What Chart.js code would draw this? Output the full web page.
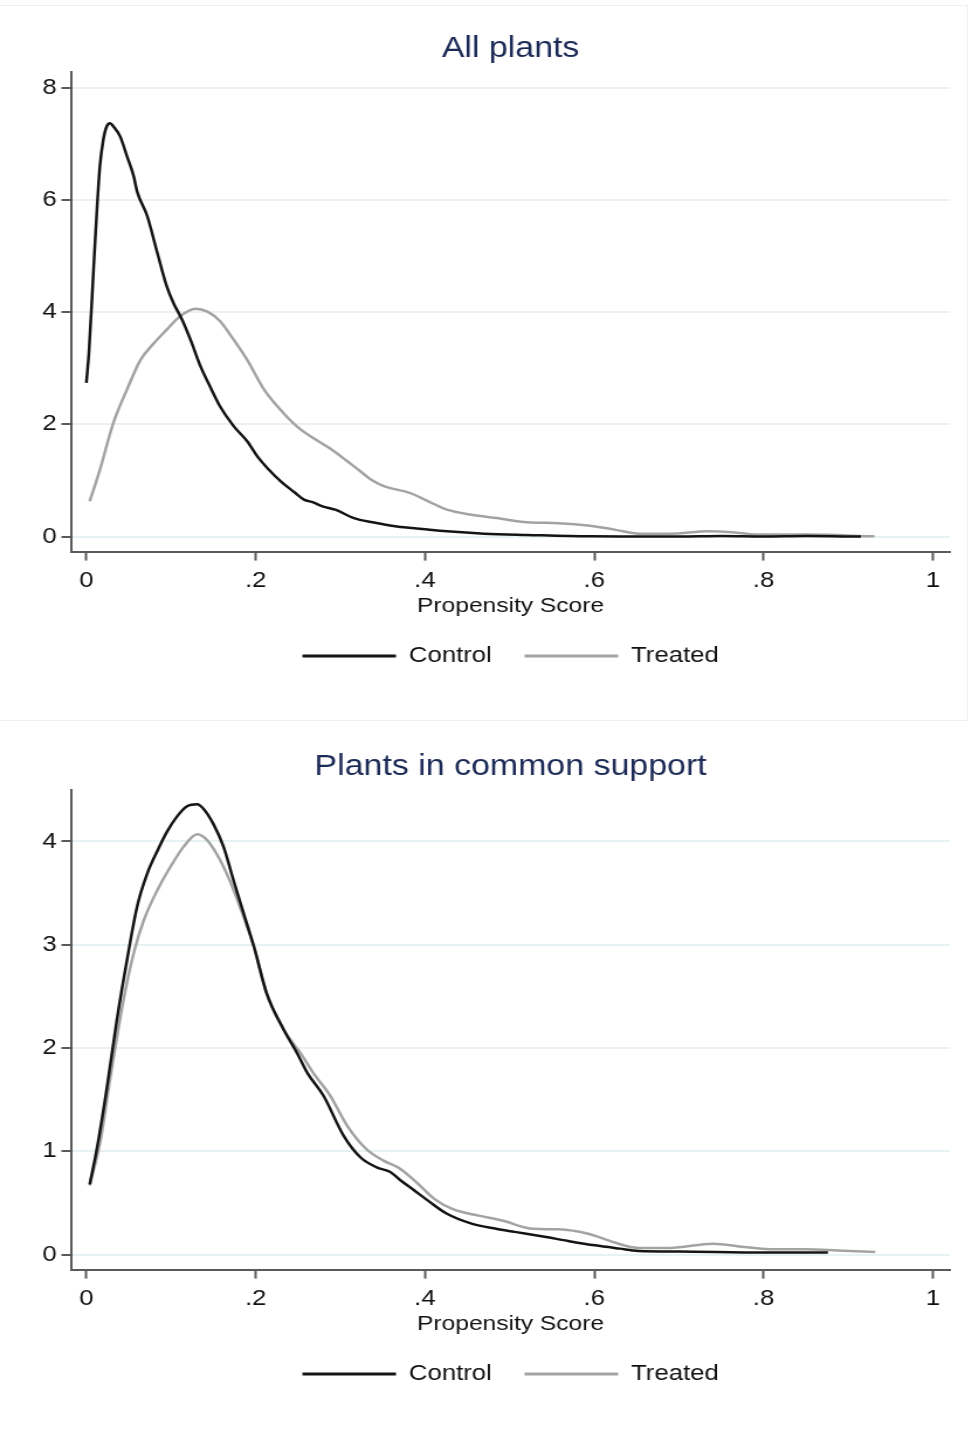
<!DOCTYPE html>
<html lang="en">
<head>
<meta charset="UTF-8" />
<title>Propensity score densities</title>
<script src="https://cdn.jsdelivr.net/npm/chart.js"></script>
<style>
  html, body { margin: 0; padding: 0; background: #fff; overflow: hidden; }
  body { width: 972px; height: 1431px; position: relative; }
  .frame { position: absolute; left: -1px; top: 5px; width: 969px; height: 716px; border: 1px solid #f0f0f0; box-sizing: border-box; }
  /* the reference is stretched sideways, so the panels are too */
  .panel { position: absolute; left: 0; width: 831px; height: 718px; transform: scaleX(1.1697); transform-origin: 0 0; }
  #panelTop { top: 0; }
  #panelBottom { top: 718px; }
</style>
</head>
<body>
<div class="frame"></div>
<div class="panel" id="panelTop"><canvas id="chartTop" width="831" height="718"></canvas></div>
<div class="panel" id="panelBottom"><canvas id="chartBottom" width="831" height="718"></canvas></div>

<script>
// x axis
const xMin = -0.0177;
const xMax = 1.02;
const xTicks = [0, 0.2, 0.4, 0.6, 0.8, 1];
const xTickLabels = ['0', '.2', '.4', '.6', '.8', '1'];

// All plants
const allTicksY = [0, 2, 4, 6, 8];
const allControlX = [0, 0.003, 0.007, 0.010, 0.013, 0.016, 0.020, 0.024, 0.028, 0.032, 0.040, 0.048, 0.056, 0.060,
  0.072, 0.084, 0.095, 0.103, 0.113, 0.123, 0.135, 0.145, 0.158, 0.174, 0.190, 0.202, 0.214, 0.230, 0.245, 0.257,
  0.268, 0.279, 0.294, 0.316, 0.338, 0.367, 0.397, 0.426, 0.470, 0.521, 0.595, 0.650, 0.700, 0.750, 0.800, 0.850, 0.915];
const allControlY = [2.74, 3.27, 4.34, 5.17, 5.95, 6.60, 7.07, 7.31, 7.37, 7.31, 7.13, 6.78, 6.42, 6.15,
  5.71, 5.05, 4.46, 4.16, 3.87, 3.51, 3.03, 2.71, 2.32, 1.97, 1.70, 1.43, 1.22, 0.98, 0.80, 0.66,
  0.61, 0.54, 0.48, 0.33, 0.255, 0.18, 0.136, 0.095, 0.053, 0.03, 0.005, 0.003, 0.0, 0.01, 0.0, 0.01, 0.0];
const allTreatedX = [0.004, 0.016, 0.032, 0.048, 0.064, 0.080, 0.095, 0.111, 0.129, 0.143, 0.158, 0.174, 0.190,
  0.210, 0.233, 0.253, 0.270, 0.288, 0.306, 0.324, 0.338, 0.353, 0.382, 0.404, 0.426, 0.455, 0.485, 0.521, 0.558,
  0.595, 0.624, 0.653, 0.690, 0.734, 0.763, 0.792, 0.851, 0.931];
const allTreatedY = [0.63, 1.19, 2.03, 2.62, 3.15, 3.45, 3.69, 3.93, 4.06, 4.01, 3.84, 3.51, 3.15,
  2.62, 2.20, 1.91, 1.74, 1.57, 1.37, 1.16, 1.00, 0.89, 0.78, 0.63, 0.48, 0.39, 0.33, 0.255, 0.24,
  0.195, 0.125, 0.053, 0.053, 0.095, 0.08, 0.036, 0.036, 0.005];

// Plants in common support
const csTicksY = [0, 1, 2, 3, 4];
const csControlX = [0.004, 0.013, 0.024, 0.036, 0.048, 0.060, 0.072, 0.084, 0.095, 0.107, 0.119, 0.131, 0.139,
  0.150, 0.162, 0.174, 0.186, 0.198, 0.213, 0.233, 0.249, 0.261, 0.280, 0.304, 0.324, 0.343, 0.359, 0.371,
  0.386, 0.404, 0.426, 0.455, 0.484, 0.506, 0.543, 0.572, 0.601, 0.630, 0.652, 0.700, 0.800, 0.876];
const csControlY = [0.68, 1.05, 1.60, 2.27, 2.85, 3.37, 3.69, 3.91, 4.09, 4.24, 4.34, 4.36, 4.31,
  4.17, 3.95, 3.62, 3.30, 2.98, 2.53, 2.18, 1.95, 1.76, 1.54, 1.15, 0.94, 0.845, 0.80, 0.72,
  0.63, 0.52, 0.395, 0.30, 0.25, 0.22, 0.17, 0.128, 0.09, 0.058, 0.035, 0.03, 0.02, 0.02];
const csTreatedX = [0.004, 0.017, 0.028, 0.044, 0.056, 0.068, 0.084, 0.099, 0.115, 0.131, 0.143, 0.158, 0.174,
  0.190, 0.198, 0.213, 0.233, 0.253, 0.268, 0.288, 0.308, 0.331, 0.351, 0.371, 0.390, 0.411, 0.433, 0.462,
  0.491, 0.528, 0.557, 0.594, 0.623, 0.652, 0.689, 0.740, 0.777, 0.813, 0.850, 0.887, 0.932];
const csTreatedY = [0.67, 1.12, 1.70, 2.47, 2.92, 3.24, 3.53, 3.75, 3.95, 4.07, 4.01, 3.82, 3.53,
  3.17, 2.98, 2.53, 2.18, 1.95, 1.76, 1.54, 1.25, 1.02, 0.91, 0.83, 0.70, 0.54, 0.44, 0.38,
  0.33, 0.25, 0.245, 0.20, 0.12, 0.065, 0.065, 0.106, 0.074, 0.051, 0.051, 0.041, 0.026];

Chart.defaults.font.family = "'Liberation Sans', Arial, sans-serif";
Chart.defaults.color = '#111';

function toPoints(xs, ys) {
  return xs.map((x, i) => ({ x: x, y: ys[i] }));
}

function makeChart(id, titleText, ctrlX, ctrlY, trtX, trtY, yMin, yMax, yTicks) {
  return new Chart(document.getElementById(id), {
    type: 'line',
    data: {
      datasets: [
        {
          label: 'Control',
          data: toPoints(ctrlX, ctrlY),
          borderColor: '#141414',
          borderWidth: 2.5,
          pointRadius: 0,
          cubicInterpolationMode: 'monotone'
        },
        {
          label: 'Treated',
          data: toPoints(trtX, trtY),
          borderColor: '#a3a3a3',
          borderWidth: 2.5,
          pointRadius: 0,
          cubicInterpolationMode: 'monotone'
        }
      ]
    },
    options: {
      responsive: false,
      animation: false,
      layout: { padding: { left: 36, right: 19, bottom: 41 } },
      scales: {
        x: {
          type: 'linear',
          min: xMin,
          max: xMax,
          afterBuildTicks: s => { s.ticks = xTicks.map(v => ({ value: v })); },
          ticks: {
            callback: v => xTickLabels[xTicks.indexOf(v)],
            color: '#111',
            font: { size: 22 },
            padding: 7,
            maxRotation: 0,
            autoSkip: false
          },
          grid: { drawOnChartArea: false, tickColor: '#5a5a5a', tickLength: 9, tickWidth: 2 },
          border: { color: '#5a5a5a', width: 2 },
          title: {
            display: true,
            text: 'Propensity Score',
            color: '#111',
            font: { size: 21, lineHeight: 1 },
            padding: { top: -5, bottom: 0 }
          }
        },
        y: {
          min: yMin,
          max: yMax,
          afterBuildTicks: s => { s.ticks = yTicks.map(v => ({ value: v })); },
          afterFit: s => { s.width = 25; },
          ticks: { color: '#111', font: { size: 22 }, padding: 4 },
          grid: { color: '#e8f1f3', lineWidth: 2, tickColor: '#5a5a5a', tickLength: 8.5, tickWidth: 2 },
          border: { color: '#5a5a5a', width: 2 }
        }
      },
      plugins: {
        title: {
          display: true,
          text: titleText,
          fullSize: false,
          color: '#1c2a56',
          font: { size: 29, weight: 'normal' },
          padding: { top: 32, bottom: 5 }
        },
        legend: {
          position: 'bottom',
          fullSize: false,
          labels: {
            boxWidth: 80,
            boxHeight: 0,
            padding: 28,
            color: '#111',
            font: { size: 22 },
            generateLabels: chart => Chart.defaults.plugins.legend.labels.generateLabels(chart)
              .map(item => Object.assign(item, { lineWidth: 3 }))
          }
        },
        tooltip: { enabled: false }
      }
    }
  });
}

makeChart('chartTop', 'All plants', allControlX, allControlY, allTreatedX, allTreatedY, -0.267, 8.285, allTicksY);
makeChart('chartBottom', 'Plants in common support', csControlX, csControlY, csTreatedX, csTreatedY, -0.145, 4.5, csTicksY);
</script>
</body>
</html>
